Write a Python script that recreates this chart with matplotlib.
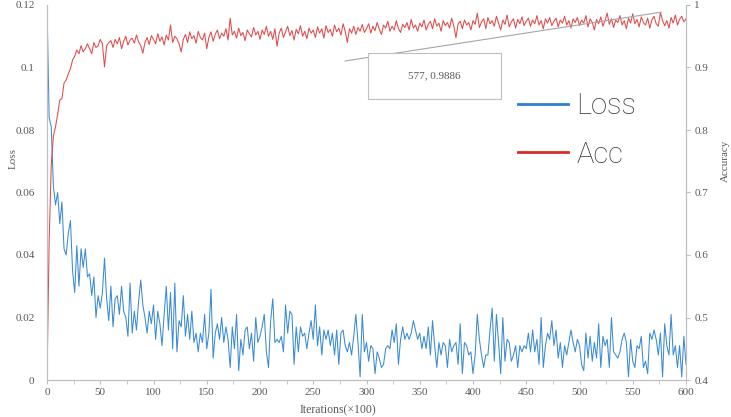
import matplotlib
matplotlib.use("Agg")
import matplotlib.pyplot as plt
from matplotlib.lines import Line2D
from matplotlib.patches import Rectangle
from matplotlib.ticker import MultipleLocator, FuncFormatter

# Iterations (x100), sampled every 2 iterations
iters = list(range(0, 601, 2))

# Training loss
loss = [
    0.120, 0.084, 0.081, 0.062, 0.056, 0.060, 0.050, 0.057, 0.042, 0.040,
    0.047, 0.051, 0.035, 0.028, 0.043, 0.030, 0.042, 0.036, 0.042, 0.033,
    0.034, 0.027, 0.033, 0.020, 0.027, 0.023, 0.028, 0.039, 0.026, 0.019,
    0.030, 0.017, 0.026, 0.027, 0.021, 0.030, 0.022, 0.020, 0.014, 0.031,
    0.015, 0.022, 0.016, 0.025, 0.032, 0.024, 0.020, 0.015, 0.022, 0.018,
    0.024, 0.013, 0.022, 0.018, 0.011, 0.021, 0.030, 0.016, 0.028, 0.010,
    0.031, 0.009, 0.019, 0.017, 0.027, 0.014, 0.021, 0.013, 0.022, 0.012,
    0.015, 0.009, 0.015, 0.012, 0.021, 0.010, 0.015, 0.029, 0.007, 0.015,
    0.018, 0.013, 0.020, 0.012, 0.017, 0.013, 0.004, 0.017, 0.010, 0.021,
    0.003, 0.013, 0.008, 0.016, 0.017, 0.010, 0.015, 0.006, 0.020, 0.012,
    0.014, 0.017, 0.021, 0.009, 0.004, 0.019, 0.026, 0.012, 0.013, 0.012,
    0.014, 0.009, 0.024, 0.015, 0.022, 0.021, 0.005, 0.017, 0.009, 0.017,
    0.014, 0.015, 0.010, 0.015, 0.019, 0.013, 0.024, 0.011, 0.017, 0.008,
    0.016, 0.013, 0.016, 0.011, 0.015, 0.008, 0.016, 0.005, 0.015, 0.016,
    0.011, 0.009, 0.012, 0.008, 0.014, 0.021, 0.012, 0.001, 0.021, 0.009,
    0.012, 0.006, 0.011, 0.010, 0.002, 0.009, 0.007, 0.004, 0.005, 0.010,
    0.011, 0.010, 0.016, 0.012, 0.018, 0.005, 0.013, 0.017, 0.013, 0.015,
    0.013, 0.015, 0.019, 0.016, 0.013, 0.015, 0.010, 0.014, 0.010, 0.017,
    0.008, 0.019, 0.011, 0.004, 0.012, 0.008, 0.012, 0.011, 0.004, 0.013,
    0.009, 0.011, 0.012, 0.005, 0.018, 0.002, 0.012, 0.011, 0.008, 0.009,
    0.002, 0.008, 0.021, 0.013, 0.008, 0.004, 0.008, 0.008, 0.016, 0.023,
    0.006, 0.021, 0.012, 0.002, 0.020, 0.006, 0.013, 0.012, 0.006, 0.008,
    0.011, 0.004, 0.011, 0.009, 0.011, 0.010, 0.015, 0.009, 0.016, 0.009,
    0.013, 0.005, 0.020, 0.004, 0.011, 0.015, 0.013, 0.019, 0.011, 0.016,
    0.007, 0.012, 0.004, 0.011, 0.008, 0.012, 0.016, 0.012, 0.009, 0.013,
    0.011, 0.005, 0.003, 0.015, 0.007, 0.014, 0.006, 0.012, 0.007, 0.018,
    0.004, 0.014, 0.011, 0.013, 0.004, 0.020, 0.009, 0.008, 0.007, 0.009,
    0.013, 0.015, 0.012, 0.001, 0.013, 0.006, 0.004, 0.011, 0.010, 0.014,
    0.004, 0.006, 0.002, 0.015, 0.013, 0.016, 0.013, 0.008, 0.015, 0.001,
    0.018, 0.011, 0.008, 0.021, 0.008, 0.011, 0.004, 0.011, 0.001, 0.014,
    0.005,
]

# Training accuracy
acc = [
    0.400, 0.620, 0.745, 0.790, 0.805, 0.825, 0.848, 0.850, 0.875, 0.880,
    0.890, 0.898, 0.912, 0.918, 0.928, 0.922, 0.935, 0.925, 0.930, 0.938,
    0.930, 0.922, 0.940, 0.932, 0.935, 0.945, 0.938, 0.901, 0.935, 0.940,
    0.943, 0.932, 0.945, 0.938, 0.948, 0.930, 0.942, 0.950, 0.936, 0.944,
    0.947, 0.939, 0.952, 0.941, 0.935, 0.923, 0.940, 0.948, 0.937, 0.951,
    0.945, 0.938, 0.954, 0.942, 0.949, 0.936, 0.952, 0.944, 0.968, 0.940,
    0.950, 0.946, 0.938, 0.925, 0.945, 0.953, 0.940, 0.957, 0.946, 0.951,
    0.939, 0.958, 0.948, 0.944, 0.955,
    0.930, 0.948, 0.957, 0.942, 0.953, 0.960, 0.946, 0.955, 0.950, 0.962,
    0.944, 0.979, 0.952, 0.958, 0.947, 0.963, 0.951, 0.956, 0.943, 0.960,
    0.954, 0.949, 0.964, 0.952, 0.958,
    0.945, 0.960, 0.953, 0.966, 0.950, 0.958, 0.945, 0.962, 0.934, 0.955,
    0.963, 0.948, 0.957, 0.966, 0.951, 0.959, 0.944, 0.961, 0.954, 0.967,
    0.950, 0.958, 0.946, 0.963, 0.955,
    0.960, 0.948, 0.965, 0.955, 0.962, 0.947, 0.967, 0.956, 0.961, 0.950,
    0.968, 0.957, 0.963, 0.952, 0.970, 0.958, 0.940, 0.962, 0.955, 0.966,
    0.953, 0.964, 0.958, 0.969, 0.956,
    0.962, 0.970, 0.955, 0.966, 0.959, 0.972, 0.961, 0.953, 0.968, 0.963,
    0.974, 0.958, 0.966, 0.960, 0.975, 0.962, 0.956, 0.969, 0.964, 0.972,
    0.960, 0.977, 0.963, 0.968, 0.958,
    0.971, 0.965, 0.976, 0.960, 0.969, 0.974, 0.962, 0.978, 0.966, 0.971,
    0.958, 0.975, 0.967, 0.972, 0.963, 0.979, 0.966, 0.948, 0.970, 0.974,
    0.962, 0.976, 0.968, 0.972, 0.960,
    0.975, 0.969, 0.987, 0.964, 0.973, 0.978, 0.962, 0.980, 0.970, 0.975,
    0.966, 0.982, 0.971, 0.960, 0.976, 0.969, 0.984, 0.965, 0.973, 0.978,
    0.963, 0.977, 0.970, 0.981, 0.967,
    0.974, 0.979, 0.966, 0.976, 0.970, 0.983, 0.968, 0.975, 0.962, 0.978,
    0.971, 0.980, 0.967, 0.974, 0.979, 0.965, 0.976, 0.971, 0.982, 0.968,
    0.975, 0.963, 0.978, 0.972, 0.980,
    0.967, 0.976, 0.971, 0.983, 0.965, 0.978, 0.972, 0.960, 0.977, 0.970,
    0.981, 0.966, 0.975, 0.987, 0.969, 0.978, 0.964, 0.976, 0.972, 0.983,
    0.968, 0.975, 0.962, 0.979, 0.971,
    0.986, 0.970, 0.977, 0.965, 0.981, 0.972, 0.968, 0.979, 0.963, 0.976,
    0.982, 0.970, 0.966, 0.988, 0.975, 0.967, 0.975, 0.963, 0.980, 0.971,
    0.984, 0.968, 0.977, 0.982, 0.973, 0.978,
]

# data label shown in the callout
ann_iter = 577
ann_acc = 0.9886

blue = "#3a8ad4"
red = "#e04a4a"
grey = "#bfbfbf"
txt = "#595959"
serif = ["Liberation Serif", "DejaVu Serif"]

fig = plt.figure(figsize=(7.31, 4.17), dpi=100)
ax = fig.add_axes([47 / 731, 1 - 380 / 417, 639 / 731, 375 / 417])
ax2 = ax.twinx()

ax.plot(iters, loss, color=blue, lw=0.75)
ax2.plot(iters, acc, color=red, lw=0.75)

ax.set_xlim(0, 600)
ax.set_ylim(0, 0.12)
ax2.set_ylim(0.4, 1.0)

ax.xaxis.set_major_locator(MultipleLocator(50))
ax.xaxis.set_minor_locator(MultipleLocator(25))
ax.yaxis.set_major_locator(MultipleLocator(0.02))
ax2.yaxis.set_major_locator(MultipleLocator(0.1))
ax.yaxis.set_major_formatter(FuncFormatter(lambda v, p: "%g" % round(v, 4)))
ax2.yaxis.set_major_formatter(FuncFormatter(lambda v, p: "%g" % round(v, 4)))

for a in (ax, ax2):
    for s in a.spines.values():
        s.set_color(grey)
        s.set_linewidth(0.8)
    a.spines["top"].set_visible(False)

ax.tick_params(axis="x", which="both", direction="out", length=3, color=grey,
               labelsize=8, labelcolor=txt, pad=3)
ax.tick_params(axis="y", length=0, labelsize=8, labelcolor=txt, pad=9)
ax2.tick_params(axis="y", direction="out", length=3, color=grey,
                labelsize=8, labelcolor=txt, pad=3)
for lab in ax.get_xticklabels() + ax.get_yticklabels() + ax2.get_yticklabels():
    lab.set_family(serif)

ax.set_ylabel("Loss", family=serif, fontsize=8, color=txt)
ax.yaxis.set_label_coords(-0.046, 0.59)
ax2.set_ylabel("Accuracy", family=serif, fontsize=8, color=txt)
ax2.yaxis.set_label_coords(1.054, 0.585)
ax.set_xlabel("Iterations(×100)", family=serif, fontsize=8.5, color=txt)
ax.xaxis.set_label_coords(0.455, -0.064)

# callout box with leader line to the data point
box = Rectangle((368 / 731, 1 - 99 / 417), 133 / 731, 46 / 417,
                transform=fig.transFigure, facecolor="white",
                edgecolor=grey, lw=0.8, zorder=5)
fig.patches.append(box)
fig.text(434.5 / 731, 1 - 76 / 417, f"{ann_iter}, {ann_acc}", family=serif,
         fontsize=8, color=txt, ha="center", va="center", zorder=6)
ax2.annotate("", xy=(ann_iter, ann_acc), xycoords="data",
             xytext=(345 / 731, 1 - 61 / 417), textcoords="figure fraction",
             arrowprops=dict(arrowstyle="-", color="#a6a6a6", lw=0.8,
                             shrinkA=0, shrinkB=0), zorder=7)

handles = [Line2D([], [], color="#2e7fce", lw=2),
           Line2D([], [], color="#dc2a2a", lw=2)]
fig.legend(handles, ["Loss", "Acc"], loc="upper left",
           bbox_to_anchor=(492 / 731, 1 - 66 / 417), frameon=False,
           prop=dict(family=["Roboto", "DejaVu Sans"], size=21, weight="light"),
           labelcolor="#3a3a3a", handlelength=1.7, handletextpad=0.3,
           labelspacing=0.7)

fig.savefig("out.png", dpi=100)
